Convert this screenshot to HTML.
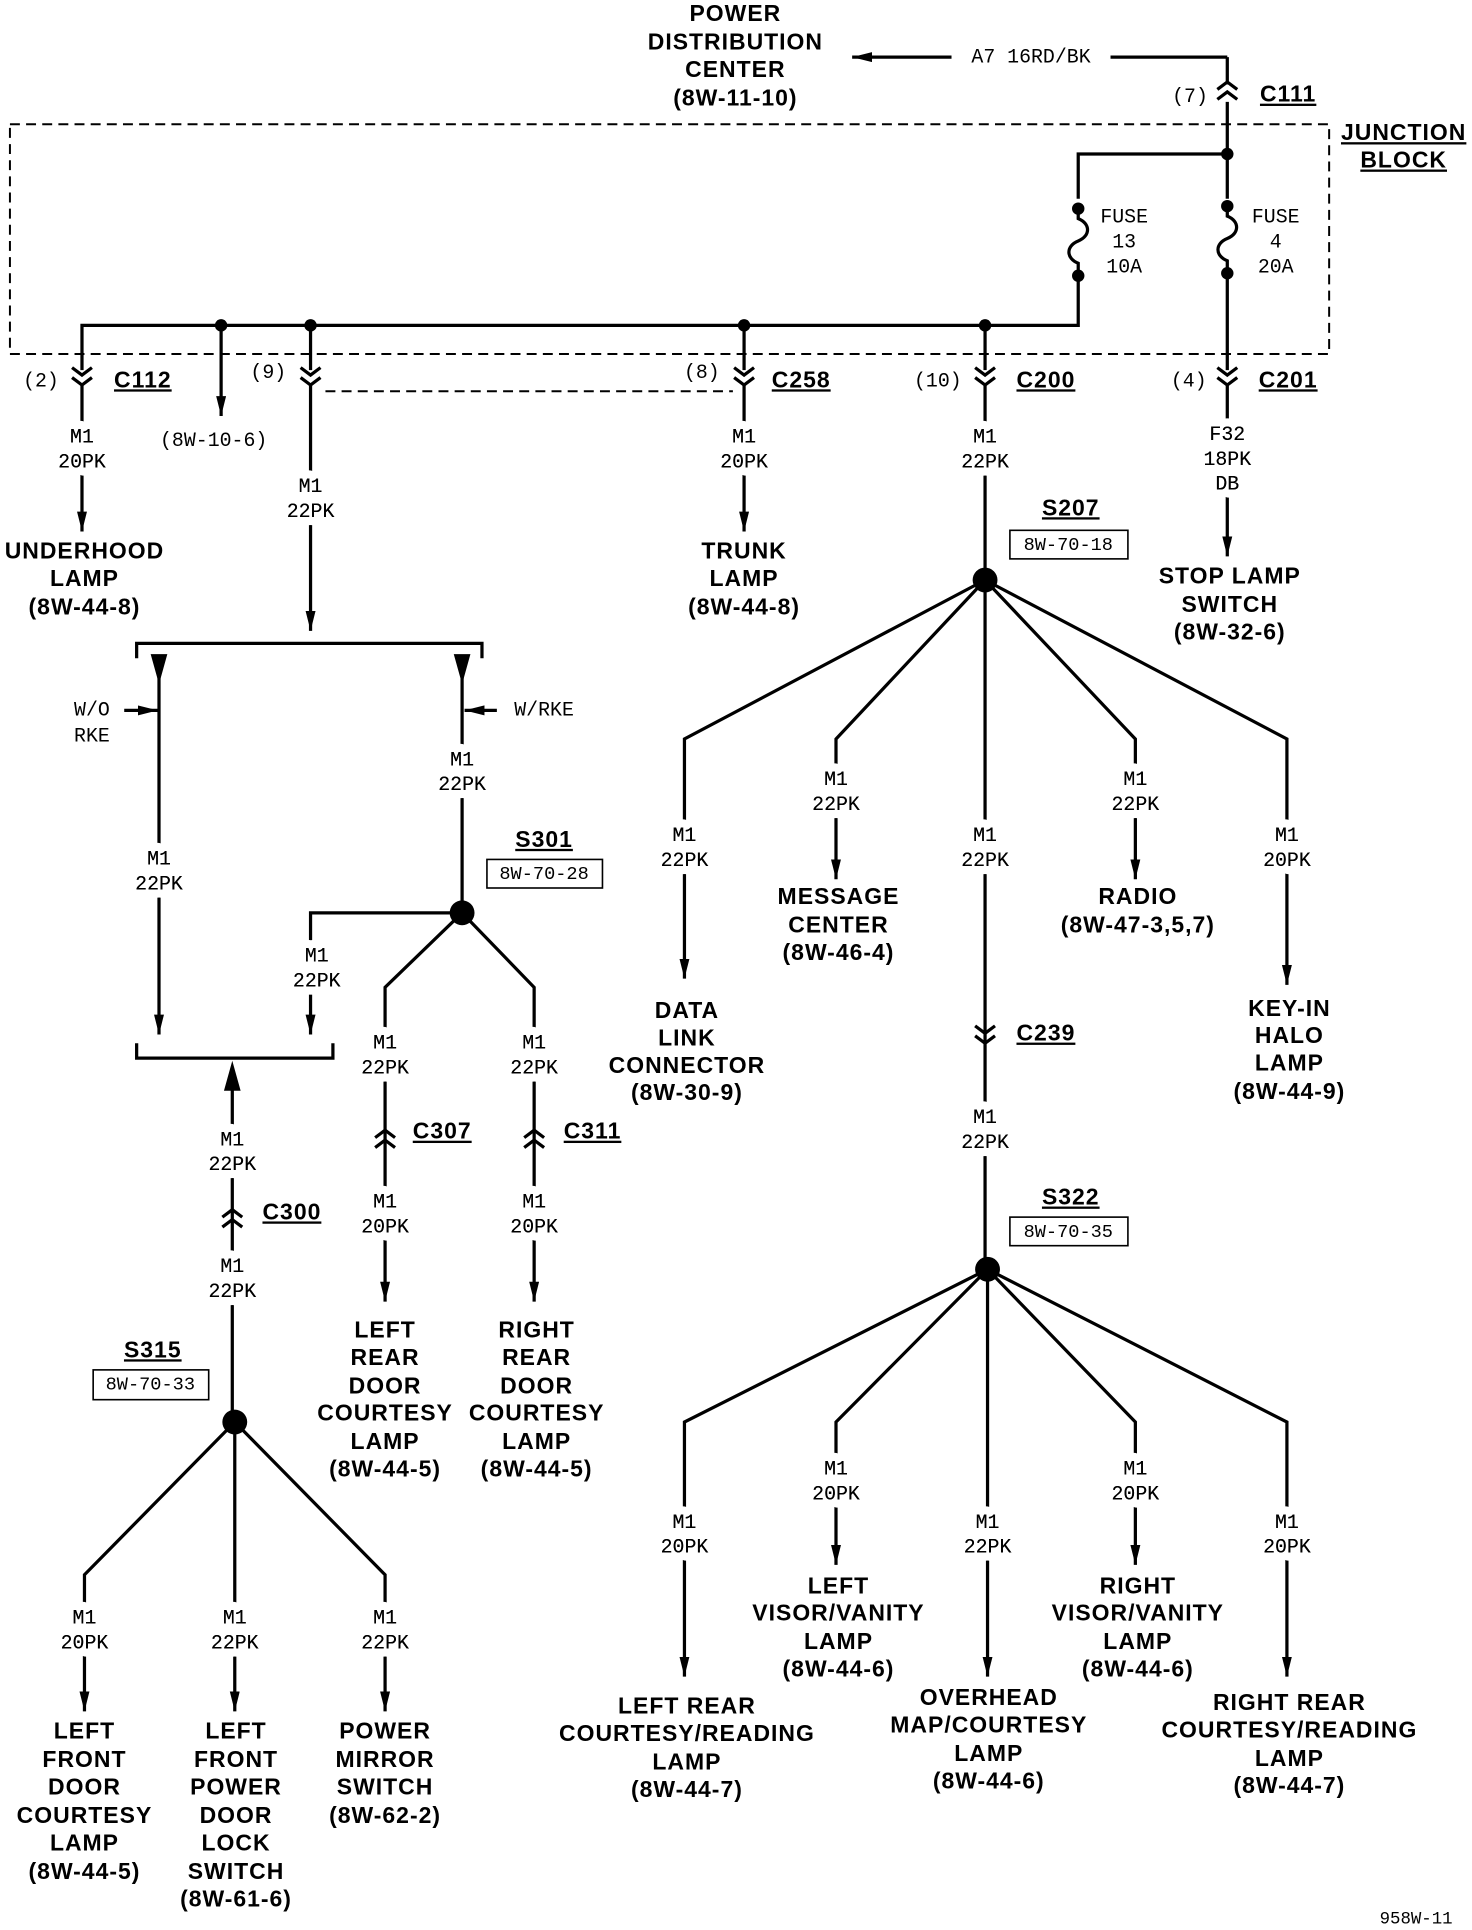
<!DOCTYPE html>
<html><head><meta charset="utf-8"><style>
html,body{margin:0;padding:0;background:#fff;}
svg{display:block;}
.b{font-family:"Liberation Sans",sans-serif;font-weight:bold;font-size:18.5px;text-anchor:middle;dominant-baseline:middle;letter-spacing:0.8px;}
.s{font-family:"Liberation Mono",monospace;font-size:16px;text-anchor:middle;dominant-baseline:middle;}
.m{paint-order:stroke;stroke:#fff;stroke-width:13px;stroke-linejoin:round;}
.u{text-decoration:underline;}
</style></head><body>
<svg width="1472" height="1930" viewBox="0 0 1185 1554" preserveAspectRatio="none" xmlns="http://www.w3.org/2000/svg">
<defs>
<marker id="a" markerUnits="userSpaceOnUse" markerWidth="18" markerHeight="10" refX="16" refY="4" orient="auto"><path d="M0,0 L16,4 L0,8 z" fill="#000"/></marker>
</defs>
<g stroke="#000" stroke-width="2.6" fill="none">
<line x1="988" y1="46" x2="686" y2="46" marker-end="url(#a)"/>
<line x1="988" y1="46" x2="988" y2="68"/>
<line x1="988" y1="82" x2="988" y2="160"/>
<rect x="8" y="100" width="1062" height="185" stroke-width="1.6" stroke-dasharray="8,5"/>
<polyline points="988,124 868,124 868,160"/>
<path d="M868,168 L868,176 C878,180 878,190 868,194 C858,198 858,208 868,212 L868,222"/>
<polyline points="868,222 868,262 66,262 66,298"/>
<path d="M988,166 L988,174 C998,178 998,188 988,192 C978,196 978,206 988,210 L988,220"/>
<line x1="988" y1="220" x2="988" y2="298"/>
<line x1="178" y1="262" x2="178" y2="335" marker-end="url(#a)"/>
<line x1="250" y1="262" x2="250" y2="298"/>
<line x1="599" y1="262" x2="599" y2="298"/>
<line x1="793" y1="262" x2="793" y2="298"/>
<line x1="262" y1="315" x2="590" y2="315" stroke-width="1.6" stroke-dasharray="8,5"/>
<path d="M58,296 L66,302 L74,296 M58,304 L66,310 L74,304"/>
<path d="M242,296 L250,302 L258,296 M242,304 L250,310 L258,304"/>
<path d="M591,296 L599,302 L607,296 M591,304 L599,310 L607,304"/>
<path d="M785,296 L793,302 L801,296 M785,304 L793,310 L801,304"/>
<path d="M980,296 L988,302 L996,296 M980,304 L988,310 L996,304"/>
<path d="M980,72 L988,66 L996,72 M980,80 L988,74 L996,80"/>
<line x1="66" y1="310" x2="66" y2="428" marker-end="url(#a)"/>
<line x1="250" y1="310" x2="250" y2="508" marker-end="url(#a)"/>
<polyline points="110,530 110,518 388,518 388,530"/>
<line x1="128" y1="545" x2="128" y2="833" marker-end="url(#a)"/>
<path d="M123,528 L133,528 L128,546 z" fill="#000"/>
<path d="M367,528 L377,528 L372,546 z" fill="#000"/>
<line x1="100" y1="572" x2="127" y2="572" marker-end="url(#a)"/>
<line x1="400" y1="572" x2="374" y2="572" marker-end="url(#a)"/>
<line x1="372" y1="545" x2="372" y2="735"/>
<polyline points="372,735 250,735 250,833" marker-end="url(#a)"/>
<polyline points="372,735 310,795 310,1048" marker-end="url(#a)"/>
<polyline points="372,735 430,795 430,1048" marker-end="url(#a)"/>
<path d="M302,916 L310,910 L318,916 M302,924 L310,918 L318,924"/>
<path d="M422,916 L430,910 L438,916 M422,924 L430,918 L438,924"/>
<polyline points="110,840 110,852 268,852 268,840"/>
<path d="M182,877 L192,877 L187,859 z" fill="#000"/>
<line x1="187" y1="875" x2="187" y2="1145"/>
<path d="M179,980 L187,974 L195,980 M179,988 L187,982 L195,988"/>
<polyline points="189,1145 68,1268 68,1378" marker-end="url(#a)"/>
<line x1="189" y1="1145" x2="189" y2="1378" marker-end="url(#a)"/>
<polyline points="189,1145 310,1268 310,1378" marker-end="url(#a)"/>
<line x1="599" y1="310" x2="599" y2="428" marker-end="url(#a)"/>
<line x1="793" y1="310" x2="793" y2="467"/>
<line x1="988" y1="310" x2="988" y2="448" marker-end="url(#a)"/>
<polyline points="793,467 551,595 551,788" marker-end="url(#a)"/>
<polyline points="793,467 673,595 673,708" marker-end="url(#a)"/>
<line x1="793" y1="467" x2="793" y2="1022"/>
<polyline points="793,467 914,595 914,708" marker-end="url(#a)"/>
<polyline points="793,467 1036,595 1036,793" marker-end="url(#a)"/>
<path d="M785,826 L793,832 L801,826 M785,834 L793,840 L801,834"/>
<polyline points="795,1022 551,1145 551,1350" marker-end="url(#a)"/>
<polyline points="795,1022 673,1145 673,1260" marker-end="url(#a)"/>
<line x1="795" y1="1022" x2="795" y2="1350" marker-end="url(#a)"/>
<polyline points="795,1022 914,1145 914,1260" marker-end="url(#a)"/>
<polyline points="795,1022 1036,1145 1036,1350" marker-end="url(#a)"/>
<rect x="392" y="692" width="93" height="23" stroke-width="1.3"/>
<rect x="813" y="427" width="95" height="23" stroke-width="1.3"/>
<rect x="813" y="980" width="95" height="23" stroke-width="1.3"/>
<rect x="75" y="1103" width="93" height="24" stroke-width="1.3"/>
</g>
<rect x="766" y="36" width="128" height="20" fill="#fff"/>
<g fill="#000">
<circle cx="988" cy="124" r="5"/><circle cx="868" cy="168" r="5"/><circle cx="868" cy="222" r="5"/>
<circle cx="988" cy="166" r="5"/><circle cx="988" cy="220" r="5"/>
<circle cx="793" cy="262" r="5"/><circle cx="599" cy="262" r="5"/><circle cx="250" cy="262" r="5"/><circle cx="178" cy="262" r="5"/>
<circle cx="372" cy="735" r="10"/><circle cx="793" cy="467" r="10"/><circle cx="795" cy="1022" r="10"/><circle cx="189" cy="1145" r="10"/>
</g>
<g class="b">
<text x="592" y="12">POWER</text><text x="592" y="35">DISTRIBUTION</text><text x="592" y="57">CENTER</text><text x="592" y="80">(8W-11-10)</text>
<text x="1130" y="108" class="u">JUNCTION</text><text x="1130" y="130" class="u">BLOCK</text>
<text x="1037" y="77" class="u">C111</text>
<text x="115" y="307" class="u">C112</text><text x="645" y="307" class="u">C258</text><text x="842" y="307" class="u">C200</text><text x="1037" y="307" class="u">C201</text>
<text x="68" y="445">UNDERHOOD</text><text x="68" y="467">LAMP</text><text x="68" y="490">(8W-44-8)</text>
<text x="599" y="445">TRUNK</text><text x="599" y="467">LAMP</text><text x="599" y="490">(8W-44-8)</text>
<text x="990" y="465">STOP LAMP</text><text x="990" y="488">SWITCH</text><text x="990" y="510">(8W-32-6)</text>
<text x="862" y="410" class="u">S207</text><text x="438" y="677" class="u">S301</text><text x="862" y="965" class="u">S322</text><text x="123" y="1088" class="u">S315</text>
<text x="553" y="815">DATA</text><text x="553" y="837">LINK</text><text x="553" y="859">CONNECTOR</text><text x="553" y="881">(8W-30-9)</text>
<text x="675" y="723">MESSAGE</text><text x="675" y="746">CENTER</text><text x="675" y="768">(8W-46-4)</text>
<text x="916" y="723">RADIO</text><text x="916" y="746">(8W-47-3,5,7)</text>
<text x="1038" y="813">KEY-IN</text><text x="1038" y="835">HALO</text><text x="1038" y="857">LAMP</text><text x="1038" y="880">(8W-44-9)</text>
<text x="842" y="833" class="u">C239</text>
<text x="356" y="912" class="u">C307</text><text x="477" y="912" class="u">C311</text><text x="235" y="977" class="u">C300</text>
<text x="310" y="1072">LEFT</text><text x="310" y="1094">REAR</text><text x="310" y="1117">DOOR</text><text x="310" y="1139">COURTESY</text><text x="310" y="1162">LAMP</text><text x="310" y="1184">(8W-44-5)</text>
<text x="432" y="1072">RIGHT</text><text x="432" y="1094">REAR</text><text x="432" y="1117">DOOR</text><text x="432" y="1139">COURTESY</text><text x="432" y="1162">LAMP</text><text x="432" y="1184">(8W-44-5)</text>
<text x="68" y="1395">LEFT</text><text x="68" y="1418">FRONT</text><text x="68" y="1440">DOOR</text><text x="68" y="1463">COURTESY</text><text x="68" y="1485">LAMP</text><text x="68" y="1508">(8W-44-5)</text>
<text x="190" y="1395">LEFT</text><text x="190" y="1418">FRONT</text><text x="190" y="1440">POWER</text><text x="190" y="1463">DOOR</text><text x="190" y="1485">LOCK</text><text x="190" y="1508">SWITCH</text><text x="190" y="1530">(8W-61-6)</text>
<text x="310" y="1395">POWER</text><text x="310" y="1418">MIRROR</text><text x="310" y="1440">SWITCH</text><text x="310" y="1463">(8W-62-2)</text>
<text x="553" y="1375">LEFT REAR</text><text x="553" y="1397">COURTESY/READING</text><text x="553" y="1420">LAMP</text><text x="553" y="1442">(8W-44-7)</text>
<text x="675" y="1278">LEFT</text><text x="675" y="1300">VISOR/VANITY</text><text x="675" y="1323">LAMP</text><text x="675" y="1345">(8W-44-6)</text>
<text x="796" y="1368">OVERHEAD</text><text x="796" y="1390">MAP/COURTESY</text><text x="796" y="1413">LAMP</text><text x="796" y="1435">(8W-44-6)</text>
<text x="916" y="1278">RIGHT</text><text x="916" y="1300">VISOR/VANITY</text><text x="916" y="1323">LAMP</text><text x="916" y="1345">(8W-44-6)</text>
<text x="1038" y="1372">RIGHT REAR</text><text x="1038" y="1394">COURTESY/READING</text><text x="1038" y="1417">LAMP</text><text x="1038" y="1439">(8W-44-7)</text>
</g>
<g class="s">
<text x="830" y="46">A7 16RD/BK</text>
<text x="958" y="78">(7)</text>
<text x="905" y="175">FUSE</text><text x="905" y="195">13</text><text x="905" y="215">10A</text>
<text x="1027" y="175">FUSE</text><text x="1027" y="195">4</text><text x="1027" y="215">20A</text>
<text x="33" y="307">(2)</text><text x="216" y="300">(9)</text><text x="565" y="300">(8)</text><text x="755" y="307">(10)</text><text x="957" y="307">(4)</text>
<text x="172" y="355">(8W-10-6)</text>
<g class="m">
<text x="66" y="352">M1</text><text x="66" y="372">20PK</text>
<text x="250" y="392">M1</text><text x="250" y="412">22PK</text>
<text x="599" y="352">M1</text><text x="599" y="372">20PK</text>
<text x="793" y="352">M1</text><text x="793" y="372">22PK</text>
<text x="988" y="350">F32</text><text x="988" y="370">18PK</text><text x="988" y="390">DB</text>
<text x="128" y="692">M1</text><text x="128" y="712">22PK</text>
<text x="372" y="612">M1</text><text x="372" y="632">22PK</text>
<text x="255" y="770">M1</text><text x="255" y="790">22PK</text>
<text x="310" y="840">M1</text><text x="310" y="860">22PK</text>
<text x="430" y="840">M1</text><text x="430" y="860">22PK</text>
<text x="310" y="968">M1</text><text x="310" y="988">20PK</text>
<text x="430" y="968">M1</text><text x="430" y="988">20PK</text>
<text x="187" y="918">M1</text><text x="187" y="938">22PK</text>
<text x="187" y="1020">M1</text><text x="187" y="1040">22PK</text>
<text x="68" y="1303">M1</text><text x="68" y="1323">20PK</text>
<text x="189" y="1303">M1</text><text x="189" y="1323">22PK</text>
<text x="310" y="1303">M1</text><text x="310" y="1323">22PK</text>
<text x="551" y="673">M1</text><text x="551" y="693">22PK</text>
<text x="673" y="628">M1</text><text x="673" y="648">22PK</text>
<text x="793" y="673">M1</text><text x="793" y="693">22PK</text>
<text x="914" y="628">M1</text><text x="914" y="648">22PK</text>
<text x="1036" y="673">M1</text><text x="1036" y="693">20PK</text>
<text x="793" y="900">M1</text><text x="793" y="920">22PK</text>
<text x="551" y="1226">M1</text><text x="551" y="1246">20PK</text>
<text x="673" y="1183">M1</text><text x="673" y="1203">20PK</text>
<text x="795" y="1226">M1</text><text x="795" y="1246">22PK</text>
<text x="914" y="1183">M1</text><text x="914" y="1203">20PK</text>
<text x="1036" y="1226">M1</text><text x="1036" y="1246">20PK</text>
</g>
<g>
<text x="66" y="352">M1</text><text x="66" y="372">20PK</text>
<text x="250" y="392">M1</text><text x="250" y="412">22PK</text>
<text x="599" y="352">M1</text><text x="599" y="372">20PK</text>
<text x="793" y="352">M1</text><text x="793" y="372">22PK</text>
<text x="988" y="350">F32</text><text x="988" y="370">18PK</text><text x="988" y="390">DB</text>
<text x="128" y="692">M1</text><text x="128" y="712">22PK</text>
<text x="372" y="612">M1</text><text x="372" y="632">22PK</text>
<text x="255" y="770">M1</text><text x="255" y="790">22PK</text>
<text x="310" y="840">M1</text><text x="310" y="860">22PK</text>
<text x="430" y="840">M1</text><text x="430" y="860">22PK</text>
<text x="310" y="968">M1</text><text x="310" y="988">20PK</text>
<text x="430" y="968">M1</text><text x="430" y="988">20PK</text>
<text x="187" y="918">M1</text><text x="187" y="938">22PK</text>
<text x="187" y="1020">M1</text><text x="187" y="1040">22PK</text>
<text x="68" y="1303">M1</text><text x="68" y="1323">20PK</text>
<text x="189" y="1303">M1</text><text x="189" y="1323">22PK</text>
<text x="310" y="1303">M1</text><text x="310" y="1323">22PK</text>
<text x="551" y="673">M1</text><text x="551" y="693">22PK</text>
<text x="673" y="628">M1</text><text x="673" y="648">22PK</text>
<text x="793" y="673">M1</text><text x="793" y="693">22PK</text>
<text x="914" y="628">M1</text><text x="914" y="648">22PK</text>
<text x="1036" y="673">M1</text><text x="1036" y="693">20PK</text>
<text x="793" y="900">M1</text><text x="793" y="920">22PK</text>
<text x="551" y="1226">M1</text><text x="551" y="1246">20PK</text>
<text x="673" y="1183">M1</text><text x="673" y="1203">20PK</text>
<text x="795" y="1226">M1</text><text x="795" y="1246">22PK</text>
<text x="914" y="1183">M1</text><text x="914" y="1203">20PK</text>
<text x="1036" y="1226">M1</text><text x="1036" y="1246">20PK</text>
</g>
<text x="74" y="572">W/O</text><text x="74" y="593">RKE</text>
<text x="438" y="572">W/RKE</text>
<text x="438" y="704" font-size="15">8W-70-28</text>
<text x="860" y="439" font-size="15">8W-70-18</text>
<text x="860" y="992" font-size="15">8W-70-35</text>
<text x="121" y="1115" font-size="15">8W-70-33</text>
<text x="1140" y="1545" font-size="14">958W-11</text>
</g>
</svg>
</body></html>
